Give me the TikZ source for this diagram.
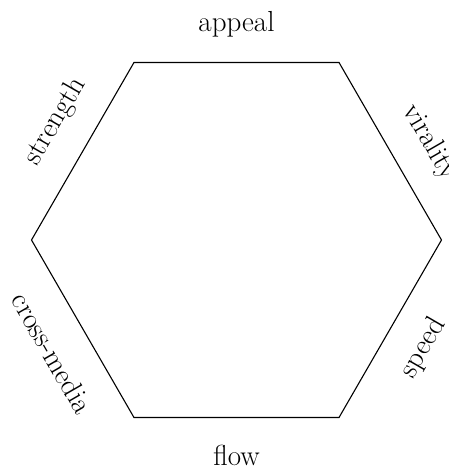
\documentclass[tikz,border=0pt]{standalone}
\usetikzlibrary{shapes.geometric,calc}

\tikzset{
  sidelabel/.style={font=\fontsize{29}{34}\selectfont, inner sep=0pt},
}

\begin{document}
\begin{tikzpicture}[x=1pt, y=1pt]
\useasboundingbox (0,0) rectangle (449,467);
\coordinate (c) at (236.5,227);
\node[regular polygon, regular polygon sides=6, minimum size=410pt, inner sep=0pt, outer sep=0pt, draw, line width=1.1pt] (hex) at (c) {};
\node[sidelabel] (appeal) at ($(c)+(90:216)$) {appeal};
\node[sidelabel, rotate=60] (strength) at ($(c)+(150:216)+(60:12)$) {strength};
\node[sidelabel, rotate=-60] (virality) at ($(c)+(30:216)+(-60:12)$) {virality};
\node[sidelabel, rotate=-60] (crossmedia) at ($(c)+(210:216)+(-60:6)$) {cross-media};
\node[sidelabel, rotate=60] (speed) at ($(c)+(330:216)$) {speed};
\node[sidelabel] (flow) at ($(c)+(270:215)$) {flow};
\end{tikzpicture}
\end{document}
